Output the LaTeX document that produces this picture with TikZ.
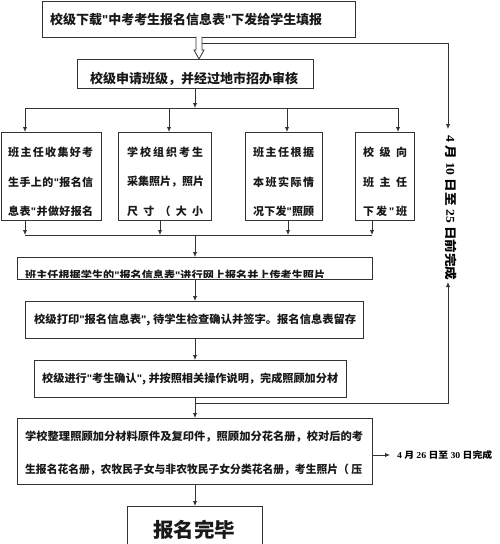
\documentclass[tikz,border=0pt]{standalone}
\usepackage{fontspec}
\usepackage{graphicx}
\setmainfont{Noto Sans CJK SC}
\newfontfamily\numfont{Liberation Serif}
\newfontfamily\qfont{Liberation Sans}
\newcommand\qq{{\qfont\bfseries"}}
\usetikzlibrary{arrows.meta}
\newcommand\fitw[2]{\resizebox{#1}{\height}{#2}}
\begin{document}
\begin{tikzpicture}[x=1pt,y=-1pt,
 box/.style={draw=black!80, line width=0.9pt, fill=white, inner sep=0pt, anchor=north west},
 arr/.style={draw=black!80, line width=0.9pt, -{Latex[length=5pt,width=4.5pt]}},
 ln/.style={draw=black!80, line width=0.9pt},
 txt/.style={font=\bfseries\fontsize{11}{11}\selectfont, inner sep=0pt, text=black!90},
 big/.style={font=\bfseries\fontsize{13}{13}\selectfont, inner sep=0pt, text=black!90}]
\useasboundingbox (0,0) rectangle (500,544);

% boxes
\node[box, minimum width=313pt, minimum height=36pt] (b1) at (42,0.5) {};
\node[box, minimum width=236pt, minimum height=29pt] (b2) at (77,59) {};
\node[box, minimum width=100.5pt, minimum height=88pt] (bA) at (0.5,132) {};
\node[box, minimum width=93pt, minimum height=88pt] (bB) at (118,132) {};
\node[box, minimum width=77pt, minimum height=88pt] (bC) at (245,132) {};
\node[box, minimum width=59pt, minimum height=88pt] (bD) at (355,132) {};
\node[box, minimum width=355pt, minimum height=22pt] (b5) at (17,257) {};
\node[box, minimum width=338pt, minimum height=37pt] (b6) at (25,301) {};
\node[box, minimum width=312pt, minimum height=37pt] (b7) at (34,360) {};
\node[box, minimum width=355pt, minimum height=66pt] (b8) at (17,418) {};
\node[box, minimum width=135pt, minimum height=37.5pt] (b9) at (127,506) {};

% texts
\node[big, anchor=west] (t1) at (50,19.5) {\fitw{272pt}{校级下载\qq 中考考生报名信息表\qq 下发给学生填报}};
\node[big, anchor=west] (t2) at (90,79) {\fitw{208pt}{校级申请班级，并经过地市招办审核}};

\node[txt, anchor=west] (tA1) at (8,152) {\makebox[85pt][s]{班\hfill 主\hfill 任\hfill 收\hfill 集\hfill 好\hfill 考}};
\node[txt, anchor=west] (tA2) at (8,182) {\makebox[85pt][s]{生\hfill 手\hfill 上\hfill 的\hfill\qq\hfill 报\hfill 名\hfill 信}};
\node[txt, anchor=west] (tA3) at (8,211) {\makebox[85pt][s]{息\hfill 表\hfill\qq\hfill 并\hfill 做\hfill 好\hfill 报\hfill 名}};

\node[txt, anchor=west] (tB1) at (127,152) {\makebox[76pt][s]{学\hfill 校\hfill 组\hfill 织\hfill 考\hfill 生}};
\node[txt, anchor=west] (tB2) at (127,182) {\makebox[76pt][s]{采\hfill 集\hfill 照\hfill 片\hfill ，\hfill 照\hfill 片}};
\node[txt, anchor=west] (tB3) at (127,211) {\makebox[76pt][s]{尺\hfill 寸\hfill （\hfill 大\hfill 小}};

\node[txt, anchor=west] (tC1) at (253,152) {\makebox[61pt][s]{班\hfill 主\hfill 任\hfill 根\hfill 据}};
\node[txt, anchor=west] (tC2) at (253,182) {\makebox[61pt][s]{本\hfill 班\hfill 实\hfill 际\hfill 情}};
\node[txt, anchor=west] (tC3) at (253,211) {\makebox[61pt][s]{况\hfill 下\hfill 发\hfill\qq\hfill 照\hfill 顾}};

\node[txt, anchor=west] (tD1) at (363,152) {\makebox[44pt][s]{校\hfill 级\hfill 向}};
\node[txt, anchor=west] (tD2) at (363,182) {\makebox[44pt][s]{班\hfill 主\hfill 任}};
\node[txt, anchor=west] (tD3) at (363,211) {\makebox[44pt][s]{下\hfill 发\hfill\qq\hfill 班}};

\begin{scope}
\clip (17,257) rectangle (372,277);
\node[txt, anchor=west] (t5) at (25,275) {\fitw{300pt}{班主任根据学生的\qq 报名信息表\qq 进行网上报名并上传考生照片}};
\end{scope}

\node[txt, anchor=west] (t6) at (34,320) {\fitw{322pt}{校级打印\qq 报名信息表\qq, 待学生检查确认并签字。报名信息表留存}};
\node[txt, anchor=west] (t7) at (42,378.5) {\fitw{296pt}{校级进行\qq 考生确认\qq, 并按照相关操作说明，完成照顾加分材}};
\node[txt, anchor=west] (t8a) at (25,437) {\fitw{338pt}{学校整理照顾加分材料原件及复印件，照顾加分花名册，校对后的考}};
\node[txt, anchor=west] (t8b) at (25,470) {\fitw{337pt}{生报名花名册，农牧民子女与非农牧民子女分类花名册，考生照片（ 压}};
\node[font=\bfseries\fontsize{20}{20}\selectfont, inner sep=0pt, text=black!90] (t9) at (194,530) {\fitw{82pt}{报名完毕}};

\node[font=\bfseries\fontsize{12}{12}\selectfont, inner sep=0pt, rotate=-90] (tv) at (451,208) {\fitw{145pt}{{\numfont\bfseries 4} 月 {\numfont\bfseries 10} 日至 {\numfont\bfseries 25} 日前完成}};
\node[font=\bfseries\fontsize{9}{9}\selectfont, inner sep=0pt, anchor=west] (tr) at (397,455) {\fitw{95pt}{{\numfont\bfseries 4} 月 {\numfont\bfseries 26} 日至 {\numfont\bfseries 30} 日完成}};

% hollow arrow b1 -> b2
\coordinate (h0) at (199,36.5);
\draw[draw=black!80, line width=0.8pt, fill=white] (196,36.5) -- (196,50) -- (194,50) -- (199,59) -- (204,50) -- (202,50) -- (202,36.5);
% right line from hollow arrow to vertical label
\coordinate (r1) at (202,43);
\coordinate (r2) at (448,43);
\coordinate (r3) at (448,129);
\draw[arr] (r1) -- (r2) -- (r3);

% b2 -> split
\coordinate (s0) at (195,88);
\coordinate (s1) at (195,108);
\draw[arr] (s0) -- (s1);
\coordinate (sl) at (25,108);
\coordinate (sr) at (398,108);
\draw[ln] (sl) -- (sr);
\draw[arr] (sl) -- (25,132);
\draw[arr] (169,108) -- (169,132);
\draw[arr] (287,108) -- (287,132);
\draw[arr] (sr) -- (398,132);

% merge
\coordinate (ml) at (25,235);
\coordinate (mr) at (372,235);
\draw[arr] (25,220) -- (ml);
\draw[arr] (160,220) -- (160,235);
\draw[arr] (288,220) -- (288,235);
\draw[arr] (372,220) -- (mr);
\draw[ln] (ml) -- (mr);
\coordinate (m0) at (195,235);
\draw[arr] (m0) -- (b5.north -| m0);

\draw[arr] (b5.south -| m0) -- (b6.north -| m0);
\draw[arr] (b6.south -| m0) -- (b7.north -| m0);
\draw[arr] (b7.south -| m0) -- (b8.north -| m0);
\coordinate (j1) at (195,403);
\coordinate (j2) at (448,403);
\draw[arr] (j1) -- (j2) -- (448,282);
\draw[arr] (b8.east |- 0,455) -- (390,455);
\draw[arr] (b8.south -| m0) -- (b9.north -| m0);
\end{tikzpicture}
\end{document}
